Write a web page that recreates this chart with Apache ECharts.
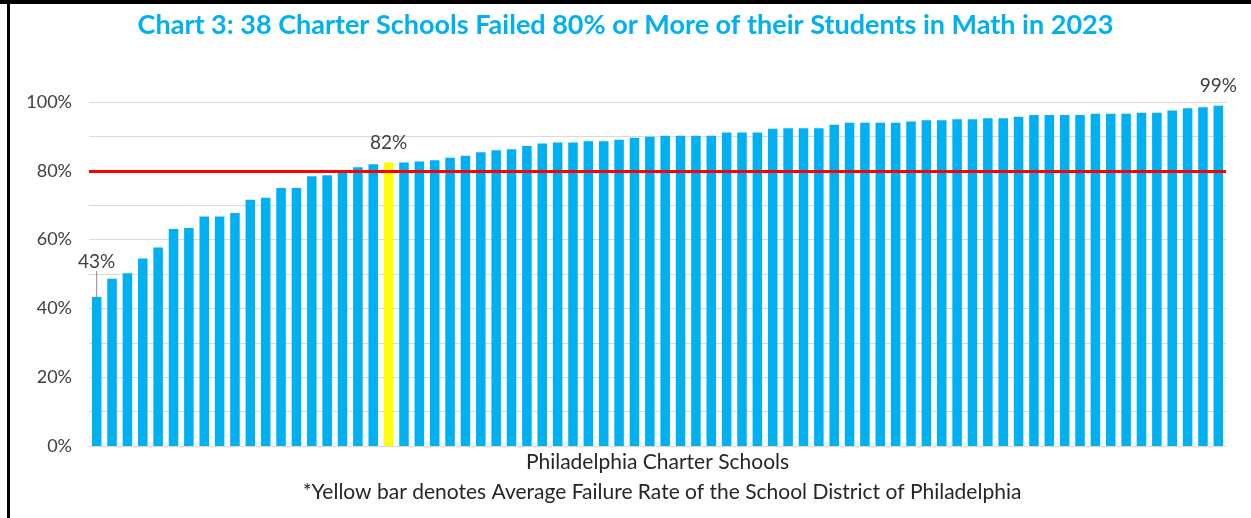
<!DOCTYPE html>
<html>
<head>
<meta charset="utf-8">
<script src="https://cdn.jsdelivr.net/npm/echarts@6/dist/echarts.min.js"></script>
<style>
  html, body { margin: 0; padding: 0; background: #fff; }
  #chart { width: 1251px; height: 518px; }
  #frame { position: absolute; left: 0; top: 0; width: 1251px; height: 518px; pointer-events: none; }
  #frame .top { position: absolute; left: 0; top: 0; width: 1251px; height: 4px; background: #000; }
  #frame .left { position: absolute; left: 7px; top: 0; width: 3px; height: 518px; background: #000; }
</style>
</head>
<body>
<div id="chart"></div>
<div id="frame"><div class="top"></div><div class="left"></div></div>
<script>
// Failure rates (%), sorted ascending; index 19 is the School District of Philadelphia average
const failureRates = [
  43.3, 48.6, 50.2, 54.5, 57.7, 63.1, 63.4, 66.7, 66.7, 67.7,
  71.6, 72.2, 75.0, 75.0, 78.4, 78.7, 79.9, 81.0, 81.9, 82.4,
  82.4, 82.7, 83.1, 83.8, 84.4, 85.4, 86.0, 86.3, 87.2, 87.9,
  88.2, 88.2, 88.6, 88.6, 89.0, 89.6, 89.9, 90.2, 90.2, 90.2,
  90.2, 91.1, 91.1, 91.1, 92.2, 92.4, 92.4, 92.4, 93.4, 94.0,
  94.0, 94.0, 94.0, 94.3, 94.7, 94.7, 95.0, 95.0, 95.3, 95.3,
  95.7, 96.2, 96.2, 96.2, 96.2, 96.6, 96.6, 96.6, 96.9, 96.9,
  97.5, 98.2, 98.5, 98.9
];
const districtIndex = 19;
const labelledIndices = [0, 19, 73];
const yTicks = [0, 20, 40, 60, 80, 100];
const thresholdValue = 80;

const titleText = 'Chart 3: 38 Charter Schools Failed 80% or More of their Students in Math in 2023';
const xAxisTitle = 'Philadelphia Charter Schools';
const footnote = '*Yellow bar denotes Average Failure Rate of the School District of Philadelphia';

const categories = failureRates.map((v, i) =>
  i === districtIndex ? 'School District of Philadelphia' : 'Charter School ' + (i < districtIndex ? i + 1 : i));

const FONT = 'Lato, "Liberation Sans", Arial, sans-serif';

const seriesData = failureRates.map((v, i) => {
  const item = { value: v };
  if (i === districtIndex) item.itemStyle = { color: '#FFFF00' };
  if (labelledIndices.includes(i)) {
    item.label = {
      show: true, position: 'top', distance: 10,
      formatter: Math.round(v) + '%', fontSize: 19, color: '#404040', fontFamily: FONT
    };
  }
  if (i === 0) {
    item.labelLine = { show: true, lineStyle: { color: '#8c8c8c', width: 1 } };
  }
  return item;
});

const chart = echarts.init(document.getElementById('chart'), null, { renderer: 'canvas' });
chart.setOption({
  animation: false,
  backgroundColor: '#ffffff',
  title: [
    {
      text: titleText, left: 'center', top: 7,
      textStyle: { color: '#00B0F0', fontWeight: 'bold', fontSize: 27, fontFamily: FONT }
    },
    {
      text: footnote, left: 657, textAlign: 'center', top: 477,
      textStyle: { color: '#262626', fontWeight: 'normal', fontSize: 21, fontFamily: FONT }
    }
  ],
  grid: { left: 89, right: 25, top: 102, bottom: 72 },
  xAxis: {
    type: 'category',
    data: categories,
    name: xAxisTitle,
    nameLocation: 'middle',
    nameGap: 6,
    nameTextStyle: { color: '#262626', fontSize: 21, fontFamily: FONT },
    axisLine: { show: true, lineStyle: { color: '#d9d9d9', width: 1 } },
    axisTick: { show: false },
    axisLabel: { show: false }
  },
  yAxis: {
    type: 'value',
    min: 0, max: 100, interval: 10,
    axisLine: { show: false },
    axisTick: { show: false },
    splitLine: { lineStyle: { color: '#d9d9d9', width: 1 } },
    axisLabel: {
      margin: 17, fontSize: 18, color: '#404040', fontFamily: FONT,
      formatter: v => yTicks.includes(v) ? v + '%' : ''
    }
  },
  series: [{
    type: 'bar',
    data: seriesData,
    barCategoryGap: '38%',
    itemStyle: { color: '#00B0F0' },
    labelLayout: params => params.dataIndex === 0 ? { dy: -16 } : {},
    markLine: {
      silent: true,
      symbol: 'none',
      label: { show: false },
      lineStyle: { color: '#FF0000', width: 3, type: 'solid' },
      data: [{ yAxis: thresholdValue }]
    }
  }]
});
</script>
</body>
</html>
